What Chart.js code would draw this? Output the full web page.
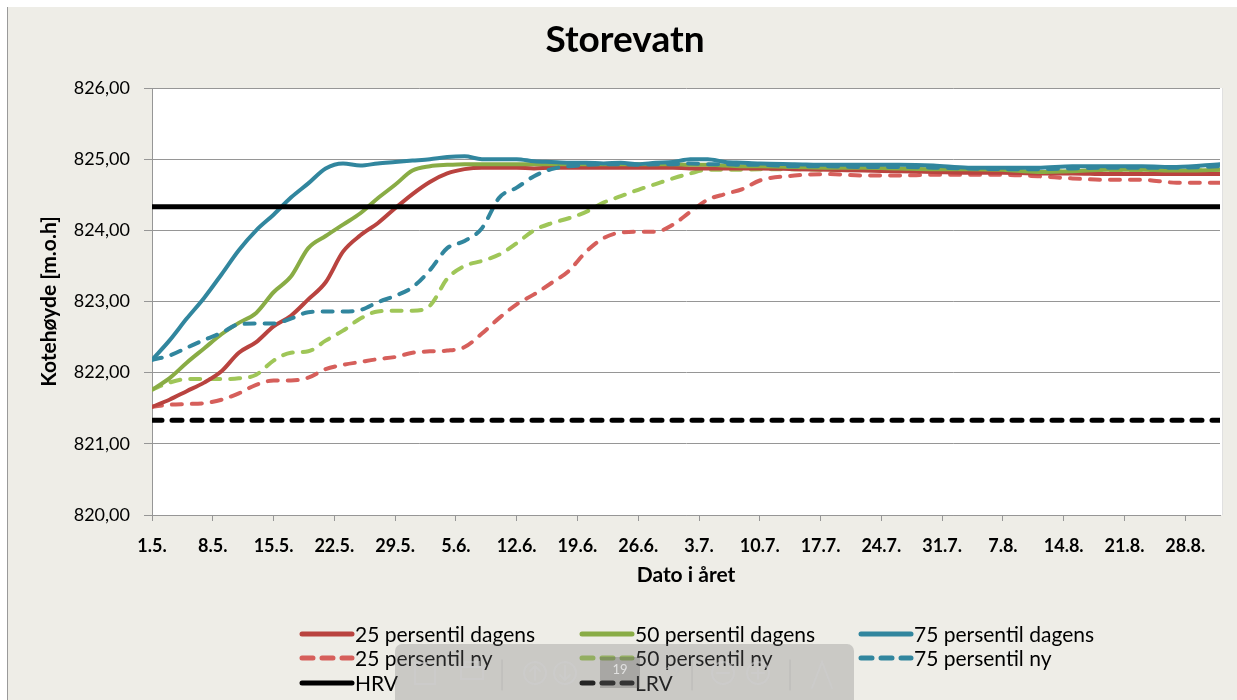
<!DOCTYPE html>
<html>
<head>
<meta charset="utf-8">
<script src="https://cdn.jsdelivr.net/npm/chart.js"></script>
<style>
  html, body { margin: 0; padding: 0; background: #fff; }
  #wrap { width: 1237px; height: 700px; position: relative; }
</style>
</head>
<body>
<div id="wrap"><canvas id="chartCanvas" width="1237" height="700"></canvas></div>
<script>
// Day number counted from 1. May
const days = [0, 2, 4, 6, 8, 10, 12, 14, 16, 18, 20, 22, 24, 26, 28, 30, 32, 34, 36, 38, 40,
  42, 44, 46, 48, 50, 52, 54, 56, 58, 60, 62, 64, 66, 68, 70, 74, 78, 82, 86, 90, 94, 98,
  102, 106, 110, 114, 118, 123];

const tickLabels = ['1.5.', '8.5.', '15.5.', '22.5.', '29.5.', '5.6.', '12.6.', '19.6.', '26.6.',
  '3.7.', '10.7.', '17.7.', '24.7.', '31.7.', '7.8.', '14.8.', '21.8.', '28.8.'];

const p25dagens = [821.52, 821.62, 821.74, 821.86, 822.02, 822.28, 822.43, 822.65, 822.80, 823.03,
  823.27, 823.70, 823.93, 824.10, 824.31, 824.51, 824.68, 824.80, 824.86, 824.88, 824.88,
  824.88, 824.87, 824.88, 824.88, 824.88, 824.88, 824.88, 824.88, 824.88, 824.88, 824.87,
  824.87, 824.87, 824.87, 824.87, 824.86, 824.85, 824.84, 824.83, 824.82, 824.81, 824.81,
  824.80, 824.80, 824.79, 824.79, 824.79, 824.79];

const p50dagens = [821.76, 821.92, 822.14, 822.34, 822.54, 822.70, 822.84, 823.13, 823.35, 823.75,
  823.92, 824.08, 824.24, 824.45, 824.64, 824.84, 824.90, 824.92, 824.93, 824.93, 824.93,
  824.93, 824.93, 824.93, 824.93, 824.93, 824.93, 824.93, 824.93, 824.93, 824.93, 824.92,
  824.92, 824.91, 824.90, 824.90, 824.89, 824.88, 824.88, 824.87, 824.86, 824.86, 824.85,
  824.82, 824.83, 824.85, 824.85, 824.84, 824.85];

const p75dagens = [822.18, 822.45, 822.76, 823.05, 823.38, 823.72, 824.00, 824.22, 824.46, 824.66,
  824.87, 824.94, 824.91, 824.94, 824.96, 824.98, 825.00, 825.03, 825.04, 825.00, 825.00,
  825.00, 824.97, 824.96, 824.95, 824.95, 824.94, 824.95, 824.93, 824.95, 824.96, 825.00,
  825.00, 824.96, 824.95, 824.94, 824.93, 824.92, 824.92, 824.92, 824.91, 824.88, 824.88,
  824.88, 824.90, 824.90, 824.90, 824.89, 824.93];

const p25ny = [821.52, 821.55, 821.56, 821.57, 821.62, 821.71, 821.83, 821.89, 821.89, 821.93,
  822.05, 822.11, 822.15, 822.19, 822.22, 822.28, 822.30, 822.31, 822.36, 822.55, 822.77,
  822.96, 823.10, 823.26, 823.43, 823.70, 823.89, 823.97, 823.98, 823.98, 824.08, 824.26,
  824.43, 824.51, 824.58, 824.70, 824.77, 824.79, 824.77, 824.77, 824.78, 824.78, 824.78,
  824.76, 824.73, 824.71, 824.71, 824.67, 824.67];

const p50ny = [821.76, 821.86, 821.91, 821.91, 821.91, 821.92, 821.97, 822.17, 822.28, 822.30,
  822.45, 822.59, 822.76, 822.86, 822.87, 822.87, 822.94, 823.32, 823.50, 823.57, 823.66,
  823.82, 824.00, 824.10, 824.17, 824.26, 824.39, 824.48, 824.57, 824.65, 824.73, 824.80,
  824.85, 824.85, 824.85, 824.86, 824.86, 824.85, 824.85, 824.85, 824.85, 824.84, 824.84,
  824.82, 824.83, 824.84, 824.84, 824.84, 824.85];

const p75ny = [822.18, 822.24, 822.35, 822.46, 822.56, 822.68, 822.69, 822.69, 822.76, 822.85,
  822.86, 822.86, 822.88, 822.99, 823.08, 823.20, 823.44, 823.75, 823.85, 824.03, 824.46,
  824.60, 824.76, 824.86, 824.90, 824.92, 824.93, 824.93, 824.92, 824.93, 824.93, 824.94,
  824.93, 824.93, 824.92, 824.92, 824.90, 824.90, 824.89, 824.89, 824.88, 824.87, 824.86,
  824.86, 824.87, 824.88, 824.88, 824.88, 824.90];

const hrv = 824.33;
const lrv = 821.33;

const FONT = 'Lato, "Open Sans", sans-serif';

function toPoints(values) {
  return values.map((v, i) => ({ x: days[i], y: v }));
}

function flatLine(v) {
  return [{ x: days[0], y: v }, { x: days[days.length - 1], y: v }];
}

const dash = [10, 10];

const datasets = [
  { label: '25 persentil dagens', data: toPoints(p25dagens), borderColor: '#b9433f', order: 5 },
  { label: '50 persentil dagens', data: toPoints(p50dagens), borderColor: '#89ac45', order: 4 },
  { label: '75 persentil dagens', data: toPoints(p75dagens), borderColor: '#31869e', order: 3 },
  { label: '25 persentil ny', data: toPoints(p25ny), borderColor: '#d65f5b', borderDash: dash, order: 7 },
  { label: '50 persentil ny', data: toPoints(p50ny), borderColor: '#9fc658', borderDash: dash, order: 6 },
  { label: '75 persentil ny', data: toPoints(p75ny), borderColor: '#31869e', borderDash: dash, order: 2 },
  { label: 'HRV', data: flatLine(hrv), borderColor: '#000000', borderWidth: 5, order: 0 },
  { label: 'LRV', data: flatLine(lrv), borderColor: '#000000', borderWidth: 5, borderDash: dash, order: 1 }
];

datasets.forEach(ds => {
  ds.borderWidth = ds.borderWidth || 4;
  ds.pointRadius = 0;
  ds.fill = false;
  ds.borderCapStyle = 'round';
  ds.cubicInterpolationMode = 'monotone';
});

// background, title, legend and the pdf viewer toolbar on top
const decor = {
  id: 'decor',
  beforeDraw(chart) {
    const ctx = chart.ctx;
    const a = chart.chartArea;
    ctx.save();
    ctx.fillStyle = '#ffffff';
    ctx.fillRect(0, 0, chart.width, chart.height);
    ctx.fillStyle = '#eeede7';
    ctx.fillRect(7, 7, chart.width - 7, chart.height - 7);
    ctx.fillStyle = '#9a9a9a';
    ctx.fillRect(7, 7, 1, chart.height - 7);
    ctx.fillStyle = '#ffffff';
    ctx.fillRect(a.left, a.top, a.right - a.left + 2, a.bottom - a.top);
    ctx.fillStyle = '#e0e0e0';
    ctx.fillRect(a.right + 2, a.top, 1, a.bottom - a.top);
    ctx.restore();
  },
  afterDraw(chart) {
    const ctx = chart.ctx;
    ctx.save();
    // title
    ctx.fillStyle = '#000';
    ctx.font = 'bold 37px ' + FONT;
    ctx.textAlign = 'center';
    ctx.textBaseline = 'middle';
    ctx.fillText('Storevatn', 625, 40);

    // legend, 3 columns
    const colX = [300, 580, 859];
    const rowY = [634, 658, 683];
    ctx.font = '21px ' + FONT;
    ctx.textAlign = 'left';
    chart.data.datasets.forEach((ds, i) => {
      const x = colX[i % 3];
      const y = rowY[Math.floor(i / 3)];
      ctx.beginPath();
      ctx.strokeStyle = ds.borderColor;
      ctx.lineWidth = 5;
      ctx.lineCap = 'round';
      ctx.setLineDash(ds.borderDash ? [11, 9] : []);
      ctx.moveTo(x + 2, y);
      ctx.lineTo(x + 52, y);
      ctx.stroke();
      ctx.setLineDash([]);
      ctx.fillStyle = '#000';
      ctx.fillText(ds.label, x + 55, y + 1);
    });

    // toolbar overlay
    ctx.fillStyle = 'rgba(120,120,120,0.3)';
    ctx.beginPath();
    ctx.roundRect(395, 644, 459, 70, 7);
    ctx.fill();
    ctx.fillStyle = 'rgba(90,90,90,0.3)';
    ctx.fillRect(600, 657, 40, 31);
    ctx.fillStyle = 'rgba(235,235,235,0.85)';
    ctx.font = '13px ' + FONT;
    ctx.textAlign = 'center';
    ctx.fillText('19', 620, 670);
    ctx.fillStyle = 'rgba(200,200,200,0.5)';
    ctx.fillText('/ 19', 668, 672);
    ctx.strokeStyle = 'rgba(175,175,175,0.6)';
    ctx.lineWidth = 1;
    [502, 692, 790].forEach(x => {
      ctx.beginPath();
      ctx.moveTo(x, 660);
      ctx.lineTo(x, 690);
      ctx.stroke();
    });
    ctx.strokeStyle = 'rgba(205,205,205,0.6)';
    ctx.lineWidth = 2;
    [535, 565, 723, 758].forEach(x => {
      ctx.beginPath();
      ctx.arc(x, 673, 11, 0, Math.PI * 2);
      ctx.stroke();
    });
    ctx.beginPath();
    ctx.moveTo(535, 680); ctx.lineTo(535, 666); ctx.moveTo(530, 671); ctx.lineTo(535, 666); ctx.lineTo(540, 671);
    ctx.moveTo(565, 666); ctx.lineTo(565, 680); ctx.moveTo(560, 675); ctx.lineTo(565, 680); ctx.lineTo(570, 675);
    ctx.moveTo(717, 673); ctx.lineTo(729, 673);
    ctx.moveTo(752, 673); ctx.lineTo(764, 673); ctx.moveTo(758, 667); ctx.lineTo(758, 679);
    ctx.stroke();
    ctx.strokeRect(415, 663, 20, 21);
    ctx.strokeRect(461, 667, 22, 12);
    ctx.strokeRect(465, 662, 14, 5);
    ctx.beginPath();
    ctx.moveTo(812, 688); ctx.lineTo(822, 662); ctx.lineTo(832, 688);
    ctx.stroke();
    ctx.restore();
  }
};

const ctx = document.getElementById('chartCanvas').getContext('2d');

new Chart(ctx, {
  type: 'line',
  data: { datasets: datasets },
  options: {
    responsive: false,
    animation: false,
    devicePixelRatio: 1,
    layout: { padding: { left: 7, right: 17, top: 88, bottom: 85 } },
    plugins: {
      legend: { display: false },
      title: { display: false },
      tooltip: { enabled: false }
    },
    scales: {
      x: {
        type: 'linear',
        min: 0,
        max: 123,
        afterFit: s => { s.height = 100; },
        ticks: {
          stepSize: 7,
          includeBounds: false,
          autoSkip: false,
          maxRotation: 0,
          padding: 14,
          color: '#000',
          font: { family: FONT, size: 18, weight: 'bold' },
          callback: v => tickLabels[Math.round(v / 7)]
        },
        grid: { drawOnChartArea: false, tickLength: 6, color: '#969696' },
        border: { color: '#969696' },
        title: {
          display: true,
          text: 'Dato i året',
          color: '#000',
          padding: { top: 0, bottom: 27 },
          font: { family: FONT, size: 21, weight: 'bold', lineHeight: 1.2 }
        }
      },
      y: {
        min: 820,
        max: 826,
        afterFit: s => { s.width = 145; },
        ticks: {
          stepSize: 1,
          padding: 14,
          color: '#000',
          font: { family: FONT, size: 18 },
          callback: v => v.toFixed(2).replace('.', ',')
        },
        grid: { color: '#969696', tickLength: 8 },
        border: { color: '#969696' },
        title: {
          display: true,
          text: 'Kotehøyde [m.o.h]',
          color: '#000',
          padding: { top: 30, bottom: 0 },
          font: { family: FONT, size: 21, weight: 'bold', lineHeight: 1.2 }
        }
      }
    }
  },
  plugins: [decor]
});
</script>
</body>
</html>
